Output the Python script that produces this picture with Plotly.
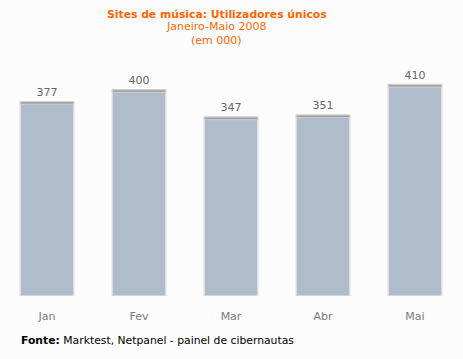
import plotly.graph_objects as go

months = ["Jan", "Fev", "Mar", "Abr", "Mai"]
users = [377, 400, 347, 351, 410]
cap = [5, 5, 5, 5, 5]

W, H = 463, 359
L, R, T, B = 1, 2, 64, 63
PW, PH = W - L - R, H - T - B


def px(x):
    return (x - L) / PW


def py(y):
    return (H - B - y) / PH


fig = go.Figure()
fig.add_trace(go.Bar(
    x=months, y=users,
    marker=dict(color="#afbccc", line=dict(color="#dcdcdc", width=1.5)),
    hoverinfo="skip",
))
fig.add_trace(go.Bar(
    x=months, y=cap, base=[u - c for u, c in zip(users, cap)],
    marker=dict(color="#a0a0a0", line=dict(color="#cfcfcf", width=1)),
    text=[str(u) for u in users], textposition="outside",
    textfont=dict(family="DejaVu Sans", size=11, color="#666666"),
    cliponaxis=False, hoverinfo="skip",
))
fig.update_layout(
    width=W, height=H, barmode="overlay", bargap=0.42, showlegend=False,
    paper_bgcolor="#fcfcfc", plot_bgcolor="#fcfcfc",
    margin=dict(l=L, r=R, t=T, b=B),
    font=dict(family="DejaVu Sans", size=11, color="#777777"),
    xaxis=dict(showgrid=False, showline=False, zeroline=False,
               ticks="outside", ticklen=10, tickcolor="rgba(0,0,0,0)",
               tickfont=dict(size=11, color="#7a7a7a"), range=[-0.5, 4.5]),
    yaxis=dict(visible=False, range=[0, 450]),
    annotations=[
        dict(text="<b>Sites de música: Utilizadores únicos</b>", x=px(217), y=py(14),
             xref="paper", yref="paper", xanchor="center", yanchor="middle",
             showarrow=False, font=dict(size=10.8, color="#ff6600")),
        dict(text="Janeiro-Maio 2008", x=px(216), y=py(27),
             xref="paper", yref="paper", xanchor="center", yanchor="middle",
             showarrow=False, font=dict(size=11, color="#ff6600")),
        dict(text="(em 000)", x=px(216), y=py(40),
             xref="paper", yref="paper", xanchor="center", yanchor="middle",
             showarrow=False, font=dict(size=11, color="#ff6600")),
        dict(text="<b>Fonte:</b> Marktest, Netpanel - painel de cibernautas", x=px(19), y=py(340),
             xref="paper", yref="paper", xanchor="left", yanchor="middle",
             showarrow=False, font=dict(size=10.8, color="#000000")),
    ],
)
fig.write_html("out.html", config={"displayModeBar": False},
               post_script="document.body.style.margin='0';")
